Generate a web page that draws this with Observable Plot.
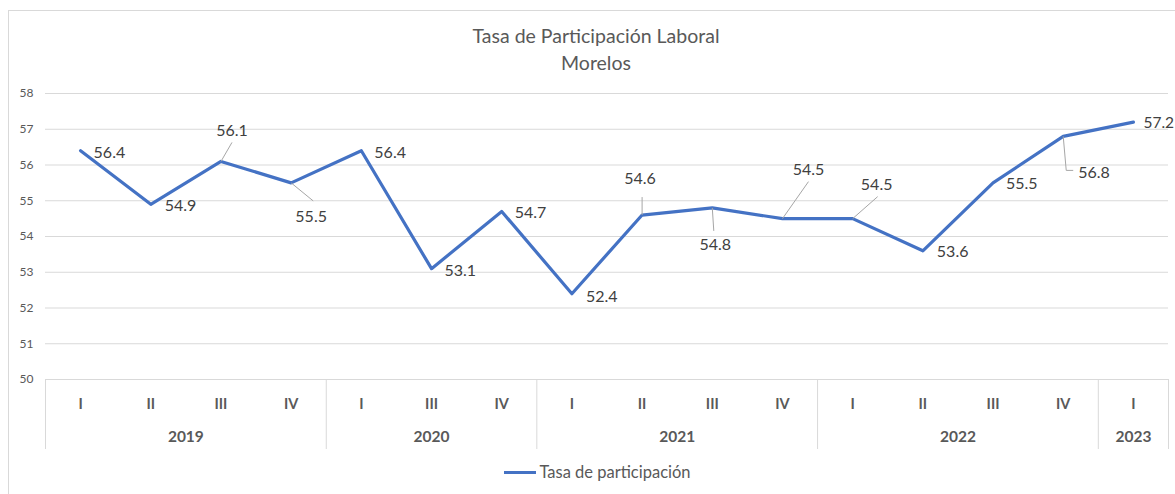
<!DOCTYPE html>
<html>
<head>
<meta charset="utf-8">
<script src="https://cdn.jsdelivr.net/npm/d3@7"></script>
<script src="https://cdn.jsdelivr.net/npm/@observablehq/plot@0.6"></script>
<style>
  html, body { margin: 0; padding: 0; background: #fff; overflow: hidden; }
  body { width: 1175px; height: 494px; position: relative; font-family: Lato, "Open Sans", sans-serif; }
  #frame { position: absolute; left: 8px; top: 10px; width: 1180px; height: 500px; border: 1px solid #d9d9d9; box-sizing: border-box; }
  #title { position: absolute; left: 0; top: 22px; width: 1192px; text-align: center; color: #595959; font-size: 19.5px; line-height: 27px; }
  #chart { position: absolute; left: 0; top: 75px; }
  #legend { position: absolute; left: 0; top: 461px; width: 1195px; text-align: center; color: #595959; font-size: 16.5px; line-height: 22px; }
  #legend .sw { display: inline-block; width: 32px; height: 3px; background: #4472C4; vertical-align: middle; margin-right: 3px; position: relative; top: -1px; }
</style>
</head>
<body>
<div id="frame"></div>
<div id="title">Tasa de Participación Laboral<br>Morelos</div>
<div id="chart"></div>
<div id="legend"><span class="sw"></span>Tasa de participación</div>
<script>
// ---- data ----
const quarters = ["I","II","III","IV","I","III","IV","I","II","III","IV","I","II","III","IV","I"];
const years    = ["2019","2019","2019","2019","2020","2020","2020","2021","2021","2021","2021","2022","2022","2022","2022","2023"];
const values   = [56.4,54.9,56.1,55.5,56.4,53.1,54.7,52.4,54.6,54.8,54.5,54.5,53.6,55.5,56.8,57.2];
const yTicks   = [50,51,52,53,54,55,56,57,58];

// ---- label layout (pixel offsets, anchor, leader path) ----
const labelLayout = [
  {dx: 13, dy: 2,   anchor: "start"},
  {dx: 14, dy: 2,   anchor: "start"},
  {dx: 11, dy: -31, anchor: "middle", leader: [[11,-19]]},
  {dx: 20, dy: 34,  anchor: "middle", leader: [[22,18]]},
  {dx: 13, dy: 2,   anchor: "start"},
  {dx: 13, dy: 2,   anchor: "start"},
  {dx: 13, dy: 1,   anchor: "start"},
  {dx: 14, dy: 3,   anchor: "start"},
  {dx: -2, dy: -36, anchor: "middle", leader: [[0,-18]]},
  {dx: 3,  dy: 37,  anchor: "middle", leader: [[1.5,23]]},
  {dx: 26, dy: -49, anchor: "middle", leader: [[26,-37]]},
  {dx: 24, dy: -34, anchor: "middle", leader: [[25,-22]]},
  {dx: 14, dy: 1,   anchor: "start"},
  {dx: 13, dy: 1,   anchor: "start"},
  {dx: 15, dy: 36,  anchor: "start", leader: [[3,34],[10,34]]},
  {dx: 10, dy: 1,   anchor: "start"}
];

const data = values.map((v, i) => ({i, value: v, q: quarters[i], year: years[i]}));

// year groups
const groups = Array.from(d3.group(data, d => d.year), ([year, arr]) => ({
  year,
  mid: d3.mean(arr, d => d.i),
  start: d3.min(arr, d => d.i) - 0.5,
  end: d3.max(arr, d => d.i) + 0.5
}));
const bounds = Array.from(new Set(groups.flatMap(g => [g.start, g.end])));

const labelMarks = data.map((d, k) => {
  const L = labelLayout[k];
  return Plot.text([d], {
    x: "i", y: "value", text: dd => dd.value.toFixed(1),
    dx: L.dx, dy: L.dy, textAnchor: L.anchor,
    fill: "#404040", fontSize: k === data.length - 1 ? 15.5 : 16
  });
});
const leaderMarks = data.flatMap((d, k) => {
  const L = labelLayout[k];
  if (!L.leader) return [];
  const pts = L.leader;
  return [Plot.dot([d], {
    x: "i", y: "value", r: 1,
    symbol: {draw(ctx) { ctx.moveTo(0, 0); for (const [px, py] of pts) ctx.lineTo(px, py); }},
    fill: "none", stroke: "#a6a6a6", strokeWidth: 1
  })];
});

const chart = Plot.plot({
  width: 1175,
  height: 380,
  marginTop: 18,
  marginBottom: 76,
  marginLeft: 45,
  marginRight: 7,
  style: {fontFamily: "Lato, 'Open Sans', sans-serif", background: "transparent", overflow: "visible"},
  x: {type: "linear", domain: [-0.5, 15.5], axis: null},
  y: {domain: [50, 58], axis: null},
  marks: [
    Plot.gridY(yTicks, {stroke: "#d9d9d9", strokeOpacity: 1, strokeWidth: 1}),
    Plot.axisY(yTicks, {tickSize: 0, tickPadding: 12, fontSize: 12, color: "#595959", label: null}),
    Plot.ruleX(bounds, {x: d => d, y1: 50, y2: 50, insetBottom: -70, stroke: "#d9d9d9", strokeWidth: 1}),
    Plot.text(data, {x: "i", y: 50, text: "q", dy: 25, fontWeight: "bold", fontSize: 14.5, fill: "#595959"}),
    Plot.text(groups, {x: "mid", y: 50, text: "year", dy: 58, fontWeight: "bold", fontSize: 15.5, fill: "#595959"}),
    Plot.line(data, {x: "i", y: "value", stroke: "#4472C4", strokeWidth: 3.2, strokeLinejoin: "round"}),
    ...leaderMarks,
    ...labelMarks
  ]
});
document.getElementById("chart").appendChild(chart);
</script>
</body>
</html>
